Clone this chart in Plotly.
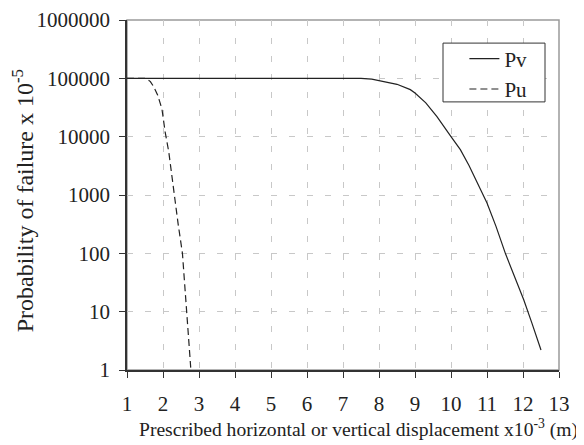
import plotly.graph_objects as go

# Data
pv_x = [1, 2, 3, 4, 5, 6, 7, 7.5, 7.8, 8.13, 8.5, 8.87, 9.0, 9.3, 9.61, 10.0, 10.26, 10.5, 11.0, 11.25, 11.51, 11.75, 12.02, 12.25, 12.5]
pv_y = [100000, 100000, 100000, 100000, 100000, 100000, 100000, 99500, 97000, 89000, 79000, 64000, 56000, 38000, 22000, 10000, 6000, 3200, 730, 290, 100, 42, 16, 6.3, 2.2]

pu_x = [1, 1.4, 1.5, 1.56, 1.65, 1.74, 1.85, 1.97, 2.06, 2.16, 2.31, 2.42, 2.54, 2.65, 2.77]
pu_y = [100000, 100000, 99500, 97000, 88000, 72000, 52000, 30000, 12000, 5500, 1000, 320, 100, 10, 1.1]

x_ticks = list(range(1, 14))
y_ticks = [1, 10, 100, 1000, 10000, 100000, 1000000]
y_tick_text = [str(v) for v in y_ticks]

x_title = "Prescribed horizontal or vertical displacement x10<sup>-3</sup> (m)"
y_title = "Probability of failure x 10<sup>-5</sup>"

FONT = "Liberation Serif"
INK = "#222222"

fig = go.Figure()
fig.add_trace(go.Scatter(x=pv_x, y=pv_y, mode="lines", name="Pv",
                         line=dict(color=INK, width=1.2)))
fig.add_trace(go.Scatter(x=pu_x, y=pu_y, mode="lines", name="Pu",
                         line=dict(color=INK, width=1.2, dash="7px,4px")))

# gray frame (top/right)
fig.add_shape(type="rect", xref="paper", yref="paper", x0=0, y0=0, x1=1, y1=1,
              line=dict(color="#9a9a9a", width=1.5), layer="below")
# legend box
fig.add_shape(type="rect", xref="paper", yref="paper", x0=0.7315, x1=0.9676, y0=0.766, y1=0.934,
              line=dict(color="#333333", width=1), fillcolor="white", layer="above")

# axis titles as annotations (positioned like the reference)
fig.add_annotation(text=x_title, xref="paper", yref="paper", x=0.537, y=-0.166,
                   xanchor="center", yanchor="middle", showarrow=False,
                   font=dict(family=FONT, size=19.6, color=INK))
fig.add_annotation(text=y_title, xref="paper", yref="paper", x=-0.24, y=0.483,
                   xanchor="center", yanchor="middle", showarrow=False, textangle=-90,
                   font=dict(family=FONT, size=24, color=INK))

# page body has an 8px margin, so the margins are offset by 8px
fig.update_layout(
    width=584, height=445,
    margin=dict(l=119, r=33, t=12, b=83, autoexpand=False),
    paper_bgcolor="white", plot_bgcolor="white",
    font=dict(family=FONT, size=21, color=INK),
    showlegend=True,
    legend=dict(x=0.781, y=0.947, xanchor="left", yanchor="top",
                borderwidth=0, bgcolor="rgba(0,0,0,0)",
                font=dict(family=FONT, size=21, color=INK),
                itemwidth=30, tracegroupgap=0),
    xaxis=dict(range=[1, 13], tickmode="array", tickvals=x_ticks, automargin=False,
               showline=True, linecolor="#333333", linewidth=1.5,
               ticks="outside", ticklen=6, tickcolor="#333333", tickwidth=1.2,
               showgrid=True, gridcolor="#c8c8c8", griddash="6px,12px", gridwidth=1,
               zeroline=False, ticklabelstandoff=8,
               tickfont=dict(family=FONT, size=21)),
    xaxis2=dict(range=[1, 13], overlaying="x", anchor="y", side="bottom", automargin=False,
                tickmode="array", tickvals=x_ticks, showticklabels=False,
                ticks="inside", ticklen=6, tickcolor="#333333", tickwidth=1.2,
                showgrid=False, showline=False, zeroline=False),
    yaxis=dict(type="log", range=[0, 6], tickmode="array", tickvals=y_ticks, ticktext=y_tick_text,
               automargin=False,
               showline=True, linecolor="#333333", linewidth=1.5,
               ticks="outside", ticklen=6, tickcolor="#333333", tickwidth=1.2,
               showgrid=True, gridcolor="#c8c8c8", griddash="6px,12px", gridwidth=1,
               zeroline=False, ticklabelstandoff=5,
               tickfont=dict(family=FONT, size=21)),
)

fig.write_html("out.html")
